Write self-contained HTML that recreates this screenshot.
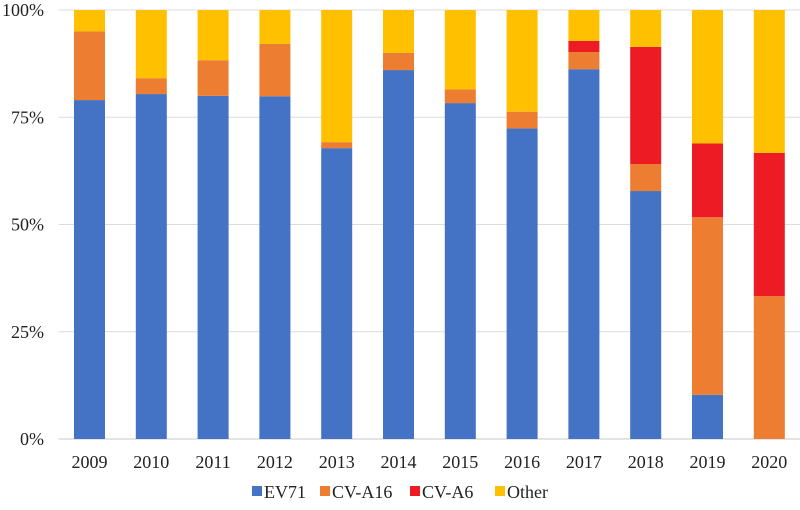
<!DOCTYPE html>
<html><head><meta charset="utf-8"><style>
body{margin:0;background:#fff;}
svg text{font-family:"Liberation Serif",serif;fill:#222;}
</style></head><body>
<svg id="chart" width="800" height="505">
<g id="grid"></g>
<g id="yaxis"></g>
<g id="bars"></g>
<g id="xaxis"></g>
<g id="legend"></g>
</svg>
<script>
const categories=["2009","2010","2011","2012","2013","2014","2015","2016","2017","2018","2019","2020"];
const ev71=[79,80.4,80,79.9,67.8,86,78.3,72.4,86.2,57.8,10.3,0];
const cva16=[16,3.7,8.3,12.2,1.4,4,3.2,3.9,4,6.3,41.4,33.3];
const cva6=[0,0,0,0,0,0,0,0,2.6,27.3,17.2,33.4];
const other=[5,15.9,11.7,7.9,30.8,10,18.5,23.7,7.2,8.6,31.1,33.3];
const yTicks=[0,25,50,75,100];
const seriesNames=["EV71","CV-A16","CV-A6","Other"];
const seriesColors=["#4472C4","#ED7D31","#ED1C24","#FFC000"];
const NS="http://www.w3.org/2000/svg";
const x0=58.6,band=61.8,bw=31,yBase=439,yTop=10;
const y=v=>yBase-(v/100)*(yBase-yTop);
const xc=i=>x0+band*i+band/2;
function mk(t,a,p){const e=document.createElementNS(NS,t);for(const k in a)e.setAttribute(k,a[k]);p.appendChild(e);return e;}
const grid=document.getElementById('grid'),ya=document.getElementById('yaxis'),bars=document.getElementById('bars'),xa=document.getElementById('xaxis'),lg=document.getElementById('legend');
yTicks.forEach(t=>{
  const l=mk('line',{x1:x0,x2:800,y1:y(t),y2:y(t),stroke:t===0?'#c8c8c8':'#dcdcdc','stroke-width':1},grid);
  
  
  const tx=mk('text',{x:44,y:y(t)+6,'text-anchor':'end','font-size':18},ya);
  tx.textContent=t+'%';
  
  
});
const series=[ev71,cva16,cva6,other];
categories.forEach((c,i)=>{
  let cum=0;
  series.forEach((s,j)=>{
    const v=s[i];if(v<=0)return;
    const r=mk('rect',{x:xc(i)-bw/2,y:y(cum+v),width:bw,height:y(cum)-y(cum+v),fill:seriesColors[j]},bars);
    
    
    cum+=v;
  });
  const t=mk('text',{x:xc(i),y:468,'text-anchor':'middle','font-size':18},xa);
  t.textContent=c;
  
  
});
const lx=[252,320,410,495];
seriesNames.forEach((n,j)=>{
  const g=mk('g',{},lg);
  
  
  mk('rect',{x:lx[j],y:486,width:10,height:10,fill:seriesColors[j]},g);
  const t=mk('text',{x:lx[j]+12,y:498,'font-size':18},g);
  t.textContent=n;
});
</script>
</body></html>
